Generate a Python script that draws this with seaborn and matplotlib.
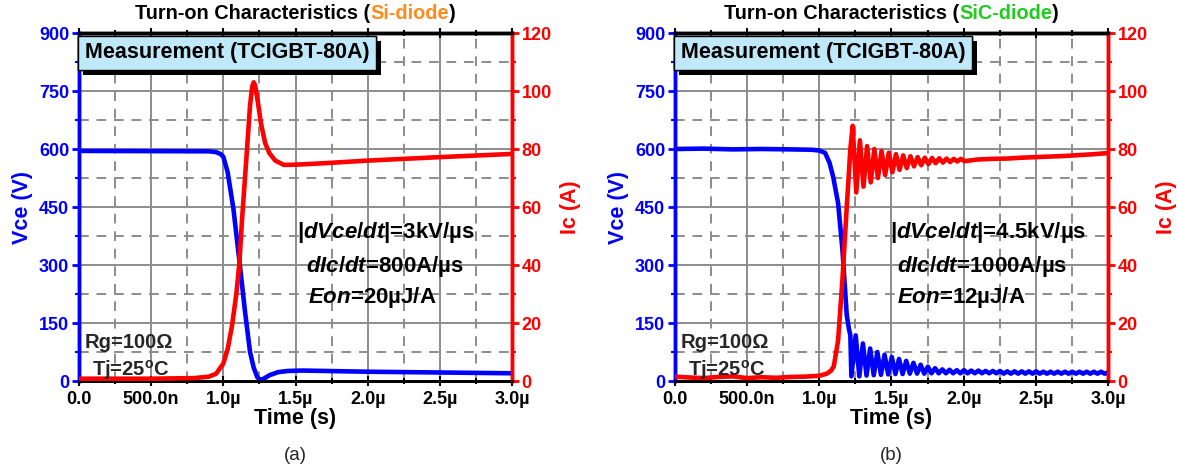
import matplotlib
matplotlib.use('Agg')
import matplotlib.pyplot as plt
import seaborn as sns
from matplotlib.ticker import MultipleLocator
from matplotlib.offsetbox import TextArea, HPacker, AnchoredOffsetbox
import matplotlib.patheffects as pe

# ---------------- data (time in microseconds) ----------------
x_ticks = [0.0, 0.5, 1.0, 1.5, 2.0, 2.5, 3.0]
x_tick_labels = ['0.0', '500.0n', '1.0\u00b5', '1.5\u00b5', '2.0\u00b5', '2.5\u00b5', '3.0\u00b5']
vce_ticks = [0, 150, 300, 450, 600, 750, 900]
ic_ticks = [0, 20, 40, 60, 80, 100, 120]

# (a) Si-diode
si_t_vce = [0.0, 0.5, 0.9, 0.95, 0.98, 1.0, 1.03, 1.07, 1.11, 1.15, 1.185, 1.21, 1.235, 1.255,
            1.28, 1.32, 1.38, 1.45, 1.55, 1.7, 2.0, 2.5, 3.0]
si_vce = [595, 594.5, 594, 592, 587, 580, 540, 445, 315, 180, 75, 35, 10, 3,
          6, 15, 23, 26, 27, 26, 24, 22, 20]
si_t_ic = [0.0, 0.5, 0.8, 0.9, 0.95, 1.0, 1.03, 1.06, 1.09, 1.11, 1.13, 1.16, 1.185, 1.2, 1.21,
           1.22, 1.24, 1.26, 1.29, 1.32, 1.36, 1.42, 1.5, 1.7, 2.0, 2.5, 3.0]
si_ic = [0.8, 0.8, 1.0, 1.5, 2.5, 6, 11, 19, 30, 40, 56, 77, 95, 101.5, 103,
         102, 96, 89, 82, 78.5, 76, 74.5, 74.6, 75.1, 76, 77.2, 78.3]

# (b) SiC-diode
sic_t_vce = [0.0, 0.2, 0.4, 0.6, 0.8, 0.95, 1.0, 1.04, 1.07, 1.096, 1.13, 1.16, 1.19, 1.205, 1.215, 1.222,
             1.252, 1.277, 1.302, 1.327, 1.352, 1.377, 1.402, 1.427, 1.452, 1.477, 1.502, 1.527,
             1.552, 1.577, 1.602, 1.627, 1.652, 1.677, 1.702, 1.727, 1.752, 1.777, 1.802, 1.827,
             1.852, 1.877, 1.902, 1.927, 1.952, 1.977, 2.002, 2.027, 2.052, 2.077, 2.102, 2.127,
             2.152, 2.177, 2.202, 2.227, 2.252, 2.277, 2.302, 2.327, 2.352, 2.377, 2.402, 2.427,
             2.452, 2.477, 2.502, 2.527, 2.552, 2.577, 2.602, 2.627, 2.652, 2.677, 2.702, 2.727,
             2.752, 2.777, 2.802, 2.827, 2.852, 2.877, 2.902, 2.927, 2.952, 2.977, 3.0]
sic_vce = [600, 601, 599, 600, 599, 598, 596, 590, 565, 528, 460, 340, 170, 135, 118, 12,
           118, 12, 97, 14, 84, 15, 75, 16, 68, 17, 62, 18,
           57, 18, 52, 19, 47, 19, 42, 19, 37, 20, 33, 20,
           30, 20, 29, 20, 28, 20, 28, 20, 27, 20, 27, 20,
           26, 20, 26, 20, 26, 19, 25, 19, 25, 19, 25, 19,
           25, 19, 25, 19, 24, 19, 24, 19, 24, 19, 24, 19,
           24, 19, 24, 19, 24, 19, 24, 19, 24, 19, 22]
sic_t_ic = [0.0, 0.1, 0.2, 0.3, 0.4, 0.5, 0.6, 0.7, 0.8, 0.9, 1.0, 1.05, 1.08, 1.10, 1.13, 1.16,
            1.19, 1.215, 1.231, 1.256, 1.281, 1.306, 1.331, 1.356, 1.381, 1.406, 1.431, 1.456,
            1.481, 1.506, 1.531, 1.556, 1.581, 1.606, 1.631, 1.656, 1.681, 1.706, 1.731, 1.756,
            1.781, 1.806, 1.831, 1.856, 1.881, 1.906, 1.931, 1.956, 1.981, 2.006, 2.1, 2.2,
            2.3, 2.4, 2.5, 2.6, 2.7, 2.8, 2.9, 3.0]
sic_ic = [1.5, 1.2, 1.0, 1.4, 1.6, 1.0, 1.3, 1.1, 1.4, 1.5, 1.8, 2.5, 3.5, 5, 14, 35,
          60, 80, 88, 65, 83, 67, 81, 68.5, 80, 70, 79.3, 71,
          78.7, 72, 78.2, 72.8, 77.8, 73.4, 77.5, 74, 77.2, 74.4, 77.0, 74.8,
          76.9, 75.1, 76.8, 75.3, 76.7, 75.5, 76.6, 75.7, 76.6, 75.8, 76.4, 76.6,
          76.7, 77.0, 77.2, 77.4, 77.6, 77.9, 78.2, 78.6]

# ---------------- style ----------------
sns.set_theme(style='white')
plt.rcParams['font.family'] = ['Liberation Sans', 'DejaVu Sans']
plt.rcParams['mathtext.fontset'] = 'custom'
plt.rcParams['mathtext.rm'] = 'Liberation Sans:bold'
plt.rcParams['mathtext.it'] = 'Liberation Sans:italic:bold'
plt.rcParams['mathtext.bf'] = 'Liberation Sans:bold'

BLUE = '#0000ff'
RED = '#ff0000'
GRID = '#8c8c8c'

fig = plt.figure(figsize=(11.77, 4.68), dpi=100)

W, H = 1177.0, 468.0


def panel(left_px, t_v, v, t_i, i, diode, dcol, lines, line_pos, caption):
    ax_w = 433.0
    ax = fig.add_axes([left_px / W, 1 - 381 / H, ax_w / W, 348 / H])
    ax2 = ax.twinx()

    sns.lineplot(x=t_v, y=v, ax=ax, color=BLUE, lw=3.3, sort=False, zorder=3)
    sns.lineplot(x=t_i, y=i, ax=ax2, color=RED, lw=3.3, sort=False, zorder=3)

    ax.set_xlim(0, 3.0)
    ax.set_ylim(0, 900)
    ax2.set_ylim(0, 120)
    ax.set_xticks(x_ticks)
    ax.set_xticklabels(x_tick_labels)
    ax.xaxis.set_minor_locator(MultipleLocator(0.25))
    ax.set_yticks(vce_ticks)
    ax.yaxis.set_minor_locator(MultipleLocator(75))
    ax2.set_yticks(ic_ticks)
    ax2.yaxis.set_minor_locator(MultipleLocator(10))

    ax.set_axisbelow(True)
    ax.grid(which='major', color=GRID, lw=1.4, ls='-')
    ax.grid(which='minor', color=GRID, lw=1.4, ls=(0, (5, 4)))

    for a in (ax, ax2):
        a.spines['left'].set_color(BLUE)
        a.spines['left'].set_linewidth(2.5)
        a.spines['right'].set_color(RED)
        a.spines['right'].set_linewidth(2.5)
        a.spines['top'].set_color('black')
        a.spines['top'].set_linewidth(2.5)
        a.spines['bottom'].set_color('black')
        a.spines['bottom'].set_linewidth(2.0)

    ax.tick_params(axis='y', which='major', colors=BLUE, labelcolor=BLUE, direction='out',
                   width=2, length=5, labelsize=13, pad=2, left=True)
    ax.tick_params(axis='y', which='minor', colors=BLUE, direction='out', width=1.5, length=3, left=True)
    ax2.tick_params(axis='y', which='major', colors=RED, labelcolor=RED, direction='out',
                    width=2, length=5, labelsize=13, pad=2, right=True)
    ax2.tick_params(axis='y', which='minor', colors=RED, direction='out', width=1.5, length=3, right=True)
    ax.tick_params(axis='x', which='major', colors='black', direction='inout', width=1.5, length=7,
                   labelsize=13, pad=3.5, bottom=True, top=True)
    ax.tick_params(axis='x', which='minor', colors='black', direction='inout', width=1.5, length=5,
                   bottom=True, top=True)
    for lab in ax.get_xticklabels() + ax.get_yticklabels() + ax2.get_yticklabels():
        lab.set_fontweight('bold')

    ax.set_xlabel('Time (s)', fontsize=15.5, fontweight='bold', color='black', labelpad=0)
    ax.set_ylabel('Vce (V)', fontsize=15.5, fontweight='bold', color=BLUE, labelpad=4)
    ax2.set_ylabel('Ic (A)', fontsize=15.5, fontweight='bold', color=RED, labelpad=6)

    # title with coloured part
    tp = dict(fontsize=14.3, fontweight='bold', color='black')
    parts = [TextArea('Turn-on Characteristics (', textprops=tp),
             TextArea(diode, textprops=dict(tp, color=dcol)),
             TextArea(')', textprops=tp)]
    pack = HPacker(children=parts, align='baseline', pad=0, sep=0)
    ab = AnchoredOffsetbox(loc='lower center', child=pack, pad=0, borderpad=0, frameon=False,
                           bbox_to_anchor=(0.5, 1.03), bbox_transform=ax.transAxes)
    ax2.add_artist(ab)

    # measurement box
    mt = ax2.text(0.013, 0.943, 'Measurement (TCIGBT-80A)', transform=ax.transAxes,
                  fontsize=15.5, fontweight='bold', color='black', ha='left', va='center', zorder=10,
                  bbox=dict(boxstyle='square,pad=0.3', fc='#bfe8f8', ec='black', lw=1.0))
    mt.get_bbox_patch().set_path_effects([pe.withSimplePatchShadow(offset=(3.5, -3.5),
                                                                    shadow_rgbFace='black', alpha=1.0),
                                          pe.Normal()])

    # switching parameters
    for txt, (xx, yy) in zip(lines, line_pos):
        ax2.text(xx, yy, txt, transform=ax.transData, fontsize=16, fontweight='bold',
                 color='black', ha='left', va='center', zorder=10)

    # Rg / Tj labels
    ax2.text(0.115, (381 - 342) / 348, 'Rg=100\u03a9', transform=ax.transAxes, fontsize=14.5,
             fontweight='bold', ha='center', va='center', zorder=10)
    ax2.text(0.120, (381 - 373) / 348 + 0.01, 'Tj=25$^\\mathrm{o}$C', transform=ax.transAxes, fontsize=14.5,
             fontweight='bold', ha='center', va='center', zorder=10)

    fig.text((left_px + ax_w / 2) / W, 1 - 455 / H, caption, fontsize=13.5, ha='center', va='center')
    return ax, ax2


lines_a = ['|$\\mathit{dVce/dt}$|=3kV/\u00b5s', '$\\mathit{dIc/dt}$=800A/\u00b5s', '$\\mathit{Eon}$=20\u00b5J/A']
pos_a = [(1.511, 383), (1.573, 295), (1.587, 215)]
lines_b = ['|$\\mathit{dVce/dt}$|=4.5kV/\u00b5s', '$\\mathit{dIc/dt}$=1000A/\u00b5s', '$\\mathit{Eon}$=12\u00b5J/A']
pos_b = [(1.49, 383), (1.538, 295), (1.538, 215)]

panel(79, si_t_vce, si_vce, si_t_ic, si_ic, 'Si-diode', '#ff8c1a', lines_a, pos_a, '(a)')
panel(675, sic_t_vce, sic_vce, sic_t_ic, sic_ic, 'SiC-diode', '#1fcc1f', lines_b, pos_b, '(b)')

fig.savefig('out.png', dpi=100, facecolor='white')
